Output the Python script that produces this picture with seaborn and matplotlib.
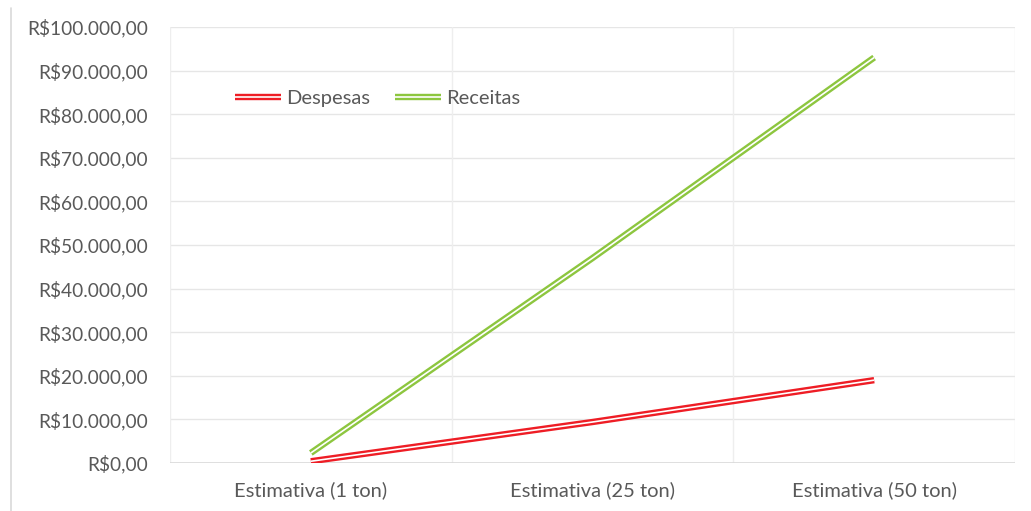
import matplotlib
matplotlib.use("Agg")
import matplotlib.pyplot as plt
import matplotlib.patheffects as pe
from matplotlib.ticker import FuncFormatter
from matplotlib.lines import Line2D
import seaborn as sns
import pandas as pd

categories = ["Estimativa (1 ton)", "Estimativa (25 ton)", "Estimativa (50 ton)"]
despesas = [400, 9400, 19000]
receitas = [2300, 47000, 93000]
series_names = ["Despesas", "Receitas"]
colors = ["#EE1D25", "#8DC63F"]

df = pd.DataFrame({
    "categoria": categories * 2,
    "valor": despesas + receitas,
    "serie": [series_names[0]] * 3 + [series_names[1]] * 3,
})

sns.set_style("white")
plt.rcParams["font.family"] = ["Lato", "DejaVu Sans"]

fig = plt.figure(figsize=(10.31, 5.11), dpi=100)
ax = fig.add_axes([170 / 1031, 1 - 463 / 511, 845 / 1031, 436 / 511])

# left edge of the chart frame
fig.add_artist(Line2D([10.5 / 1031, 10.5 / 1031], [0, 1 - 8 / 511],
                      transform=fig.transFigure, color="#D9D9D9", linewidth=1.2))

sns.lineplot(data=df, x="categoria", y="valor", hue="serie",
             palette=dict(zip(series_names, colors)), ax=ax,
             legend=False, sort=False)

# double-stroke lines: wide coloured stroke with a thin white core
for line, c, name in zip(ax.lines, colors, series_names):
    line.set_color("white")
    line.set_linewidth(1.2)
    line.set_solid_capstyle("butt")
    line.set_path_effects([pe.Stroke(linewidth=4.6, foreground=c, capstyle="butt"),
                           pe.Normal()])
    line.set_label(name)

ax.set_xlim(-0.5, 2.5)
ax.set_ylim(0, 100000)
ax.set_yticks(range(0, 100001, 10000))
ax.yaxis.set_major_formatter(FuncFormatter(
    lambda v, p: "R$" + f"{v:,.2f}".replace(",", "X").replace(".", ",").replace("X", ".")))

for y in range(10000, 100001, 10000):
    ax.axhline(y, color="#E6E6E6", linewidth=1.0, zorder=0)
for x in [-0.5, 0.5, 1.5, 2.5]:
    ax.axvline(x, color="#EEEEEE", linewidth=1.0, zorder=0)
ax.axhline(0, color="#D9D9D9", linewidth=1.2, zorder=1)

for s in ax.spines.values():
    s.set_visible(False)

ax.set_xlabel("")
ax.set_ylabel("")
ax.tick_params(axis="y", length=0, pad=16, labelsize=13.8, labelcolor="#595959")
ax.tick_params(axis="x", length=0, pad=13, labelsize=14.5, labelcolor="#595959")

leg = ax.legend(loc="center left", bbox_to_anchor=(0.055, 0.835), ncol=2,
                frameon=False, fontsize=14.5, handlelength=2.3,
                handletextpad=0.25, columnspacing=1.25)
for t in leg.get_texts():
    t.set_color("#595959")

fig.savefig("out.png", dpi=100)
